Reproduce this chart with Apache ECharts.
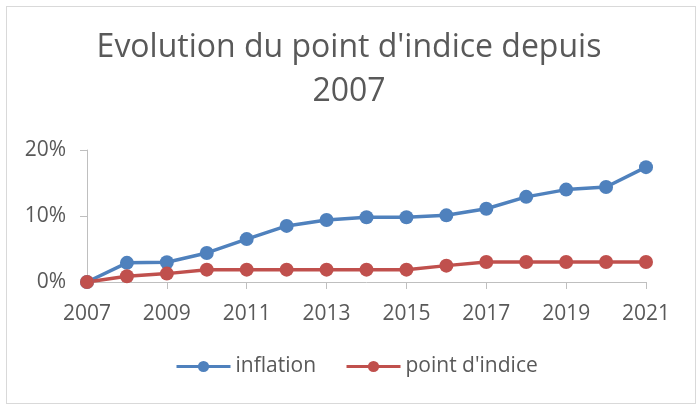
<!DOCTYPE html>
<html>
<head>
<meta charset="utf-8">
<script src="https://cdn.jsdelivr.net/npm/echarts@6/dist/echarts.min.js"></script>
<style>
html,body{margin:0;padding:0;background:#fff;}
#frame{position:absolute;left:6px;top:6px;width:690px;height:398px;border:1px solid #d9d9d9;box-sizing:border-box;}
#chart{position:absolute;left:0;top:0;width:698px;height:409px;}
</style>
</head>
<body>
<div id="frame"></div>
<div id="chart"></div>
<script>
const years = ['2007','2008','2009','2010','2011','2012','2013','2014','2015','2016','2017','2018','2019','2020','2021'];
const inflation = [0, 2.9, 3.0, 4.4, 6.5, 8.5, 9.4, 9.8, 9.8, 10.1, 11.1, 12.9, 14.0, 14.4, 17.4];
const pointIndice = [0, 0.86, 1.27, 1.87, 1.87, 1.87, 1.87, 1.87, 1.87, 2.48, 3.03, 3.03, 3.03, 3.03, 3.03];
const yTicks = [0, 10, 20];

const FONT = 'Open Sans';
const chart = echarts.init(document.getElementById('chart'), null, {renderer: 'canvas'});
chart.setOption({
  animation: false,
  title: {
    text: "Evolution du point d'indice depuis\n2007",
    left: 'center',
    top: 21,
    textStyle: {fontFamily: FONT, fontSize: 32, fontWeight: 'normal', color: '#595959', lineHeight: 44}
  },
  legend: {
    top: 351,
    left: 170,
    itemWidth: 54,
    itemHeight: 14,
    itemGap: 29,
    lineStyle: {width: 3},
    textStyle: {fontFamily: FONT, fontSize: 21, color: '#595959'},
    data: ['inflation', "point d'indice"]
  },
  grid: {left: 87, right: 52, top: 150, bottom: 127},
  xAxis: {
    type: 'category',
    data: years,
    boundaryGap: false,
    axisLine: {lineStyle: {color: '#bfbfbf', width: 1}},
    axisTick: {show: true, interval: 1, length: 7, lineStyle: {color: '#bfbfbf'}},
    axisLabel: {interval: 1, fontFamily: FONT, fontSize: 21, color: '#595959', margin: 22}
  },
  yAxis: {
    type: 'value',
    min: 0, max: 20, interval: 10,
    axisLine: {show: true, lineStyle: {color: '#bfbfbf', width: 1}},
    axisTick: {show: true, length: 7, lineStyle: {color: '#bfbfbf'}},
    splitLine: {show: false},
    axisLabel: {fontFamily: FONT, fontSize: 21, color: '#595959', margin: 21, formatter: v => v + '%'}
  },
  series: [
    {
      name: 'inflation', type: 'line', data: inflation,
      symbol: 'circle', symbolSize: 14,
      lineStyle: {color: '#4f81bd', width: 3.5},
      itemStyle: {color: '#4f81bd'}
    },
    {
      name: "point d'indice", type: 'line', data: pointIndice,
      symbol: 'circle', symbolSize: 14,
      lineStyle: {color: '#c0504d', width: 3.5},
      itemStyle: {color: '#c0504d'}
    }
  ]
});
</script>
</body>
</html>
